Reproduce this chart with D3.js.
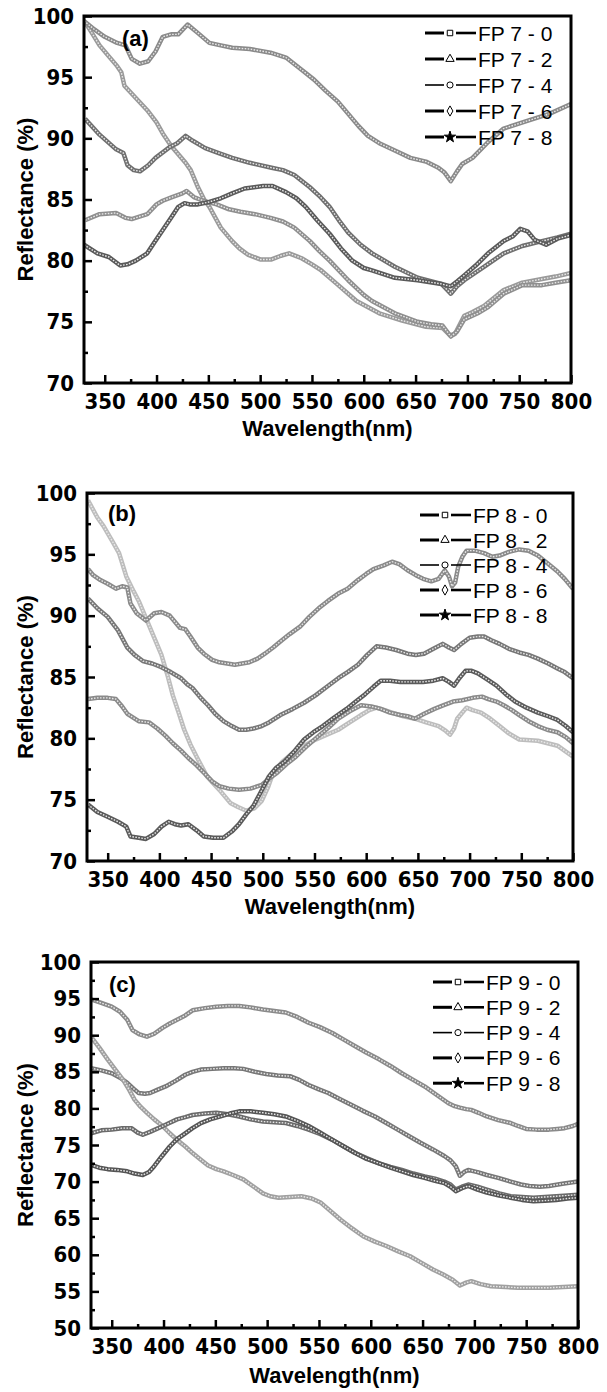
<!DOCTYPE html>
<meta charset="utf-8">
<style>
body { margin: 0; background: #fff; }
.tick text { font-family: "Liberation Sans Narrow", "Arial Narrow", "DejaVu Sans Condensed", sans-serif; font-weight: bold; font-size: 22px; fill: #000; }
.tick line { stroke: #000; stroke-width: 2.5px; }
.axis-title { font-family: "Liberation Sans", Arial, sans-serif; font-weight: bold; font-size: 22px; }
.panel-label { font-family: "Liberation Sans", Arial, sans-serif; font-weight: bold; font-size: 22px; }
.legend text { font-family: "Liberation Sans", Arial, sans-serif; font-size: 21px; }
.frame { fill: none; stroke: #000; stroke-width: 3px; }
</style>
<body>
<script src="https://d3js.org/d3.v7.min.js"></script>
<script>

// ---- data: [wavelength nm, reflectance %] ----
var fp7_0 = [[331,99.5],[337,98.7],[345,97.6],[355,96.6],[362,95.9],[366,95.4],[369,94.3],[380,93.3],[391,92.3],[400,91.3],[406,90.4],[414,89.4],[421,88.7],[428,88.0],[433,87.4],[440,86.0],[446,85.0],[451,84.4],[462,82.7],[473,81.6],[480,81.0],[488,80.5],[500,80.1],[511,80.1],[520,80.4],[528,80.6],[540,80.2],[550,79.7],[559,79.2],[574,78.1],[593,76.7],[615,75.7],[637,75.1],[660,74.6],[676,74.5],[683,73.9],[688,74.0],[697,75.5],[705,75.8],[716,76.3],[735,77.6],[753,78.2],[772,78.5],[785,78.7],[800,79.0]];
var fp7_2 = [[330,99.6],[340,98.9],[350,98.3],[362,97.8],[370,97.6],[376,96.5],[384,96.1],[392,96.3],[399,97.1],[406,98.3],[414,98.5],[421,98.5],[430,99.3],[440,98.6],[451,97.8],[462,97.6],[473,97.4],[490,97.3],[510,97.0],[525,96.6],[540,95.6],[552,94.8],[563,93.9],[575,93.0],[585,92.0],[595,91.0],[604,90.2],[615,89.6],[630,89.0],[645,88.4],[660,88.1],[672,87.6],[678,87.2],[684,86.5],[690,87.3],[695,87.9],[705,88.4],[720,89.7],[735,90.8],[757,91.4],[779,92.0],[800,92.8]];
var fp7_4 = [[331,83.3],[345,83.8],[361,83.9],[370,83.5],[376,83.4],[391,83.8],[400,84.6],[406,84.9],[415,85.2],[425,85.5],[429,85.7],[436,85.2],[445,84.9],[458,84.6],[470,84.2],[481,84.0],[495,83.8],[510,83.5],[522,83.2],[533,82.7],[548,81.6],[557,80.8],[567,80.0],[585,78.4],[600,77.2],[608,76.7],[630,75.7],[652,75.0],[665,74.8],[676,74.7],[684,73.8],[690,74.2],[697,75.2],[710,75.7],[720,76.2],[735,77.3],[753,78.0],[772,78.0],[785,78.2],[800,78.4]];
var fp7_6 = [[331,91.6],[345,90.3],[361,89.1],[368,88.8],[372,87.8],[378,87.4],[384,87.3],[392,87.8],[399,88.4],[413,89.3],[420,89.6],[428,90.2],[435,89.8],[447,89.2],[460,88.8],[473,88.4],[490,88.0],[511,87.6],[522,87.4],[533,87.0],[548,86.0],[557,85.3],[567,84.4],[576,83.3],[585,82.3],[597,81.3],[608,80.6],[630,79.5],[652,78.6],[675,78.1],[684,77.3],[690,77.9],[697,78.4],[716,79.5],[735,80.6],[753,81.2],[772,81.6],[787,81.9],[800,82.2]];
var fp7_8 = [[330,81.3],[343,80.6],[354,80.3],[365,79.6],[372,79.7],[380,80.0],[391,80.6],[398,81.5],[406,82.5],[414,83.5],[421,84.4],[427,84.7],[432,84.6],[440,84.6],[451,84.8],[462,85.1],[473,85.5],[485,85.9],[503,86.1],[512,86.1],[525,85.6],[535,85.1],[544,84.4],[555,83.3],[567,82.2],[578,81.0],[589,80.0],[600,79.4],[608,79.2],[630,78.6],[652,78.4],[675,78.1],[684,77.9],[690,78.3],[697,78.8],[708,79.6],[720,80.6],[735,81.6],[744,82.0],[751,82.6],[758,82.4],[765,81.7],[776,81.3],[787,81.8],[800,82.1]];

var fp8_0 = [[331,99.4],[340,98.0],[346,97.3],[355,96.0],[361,95.1],[368,93.2],[375,92.0],[380,91.2],[391,89.0],[402,86.8],[408,85.1],[413,83.5],[419,82.0],[424,80.7],[430,79.5],[436,78.5],[446,76.9],[458,75.8],[469,74.7],[476,74.4],[484,74.1],[492,74.3],[499,74.9],[505,76.0],[510,77.2],[519,78.1],[529,78.8],[540,79.4],[551,79.9],[562,80.3],[573,80.7],[584,81.3],[595,81.9],[603,82.3],[610,82.5],[618,82.3],[625,82.1],[636,81.8],[647,81.6],[658,81.3],[670,81.0],[677,80.6],[681,80.3],[685,80.8],[688,81.6],[692,82.0],[697,82.5],[703,82.3],[711,82.1],[720,81.6],[729,81.0],[738,80.4],[748,79.9],[766,79.8],[785,79.4],[800,78.5]];
var fp8_2 = [[331,93.8],[336,93.3],[343,92.9],[350,92.6],[358,92.2],[364,92.4],[369,92.3],[372,91.0],[378,90.2],[387,89.6],[395,90.2],[402,90.3],[410,90.0],[420,89.0],[425,88.9],[430,88.3],[437,87.4],[443,86.9],[451,86.4],[458,86.2],[473,86.0],[487,86.2],[495,86.5],[502,86.9],[510,87.4],[517,87.9],[526,88.5],[536,89.1],[545,89.9],[554,90.6],[563,91.2],[573,91.8],[582,92.2],[592,92.9],[600,93.4],[607,93.8],[617,94.1],[625,94.4],[632,94.2],[640,93.7],[648,93.3],[655,93.0],[663,92.8],[670,93.0],[676,93.7],[680,93.2],[683,92.4],[686,92.7],[689,94.0],[693,94.8],[697,95.3],[705,95.3],[714,95.1],[722,94.8],[729,94.9],[738,95.2],[748,95.4],[757,95.3],[766,94.9],[775,94.3],[785,93.6],[792,93.0],[800,92.2]];
var fp8_4 = [[331,83.2],[340,83.3],[350,83.3],[358,83.2],[364,82.6],[369,82.0],[380,81.4],[390,81.3],[398,80.8],[406,80.2],[413,79.6],[421,79.0],[428,78.4],[436,77.8],[443,77.2],[451,76.5],[458,76.1],[467,75.9],[477,75.8],[488,75.9],[499,76.2],[506,76.7],[514,77.2],[523,77.9],[532,78.5],[543,79.4],[554,80.2],[564,80.9],[573,81.6],[584,82.2],[595,82.7],[605,82.6],[614,82.4],[623,82.1],[633,81.9],[640,81.8],[647,81.6],[656,82.0],[666,82.4],[675,82.7],[684,83.0],[693,83.1],[703,83.3],[712,83.4],[718,83.2],[726,83.0],[733,82.7],[741,82.3],[748,81.9],[757,81.4],[766,81.0],[775,80.7],[785,80.5],[793,80.1],[800,79.6]];
var fp8_6 = [[331,91.4],[340,90.6],[350,89.9],[360,88.8],[369,87.4],[376,86.8],[384,86.3],[393,86.1],[402,85.8],[411,85.4],[421,84.9],[427,84.4],[432,84.1],[440,83.3],[447,82.7],[454,82.0],[462,81.4],[470,81.0],[477,80.7],[484,80.7],[491,80.8],[499,81.0],[506,81.3],[517,81.9],[529,82.4],[540,82.9],[551,83.5],[562,84.2],[573,84.9],[582,85.4],[592,86.0],[601,86.8],[610,87.5],[619,87.4],[629,87.2],[640,86.9],[648,86.8],[656,86.9],[665,87.3],[674,87.7],[680,87.4],[685,87.2],[692,87.7],[700,88.2],[708,88.3],[714,88.3],[721,88.0],[729,87.7],[738,87.3],[748,87.0],[757,86.8],[766,86.5],[776,86.1],[785,85.7],[792,85.4],[800,84.9]];
var fp8_8 = [[331,74.6],[340,74.0],[350,73.6],[360,73.2],[368,72.8],[372,72.0],[380,71.9],[387,71.8],[395,72.2],[402,72.8],[409,73.2],[415,73.0],[421,72.9],[428,73.0],[436,72.5],[443,72.0],[452,71.9],[462,71.9],[470,72.4],[477,73.0],[484,73.8],[491,74.5],[498,75.6],[506,76.9],[513,77.6],[521,78.1],[530,78.9],[540,79.9],[549,80.5],[558,81.0],[569,81.7],[581,82.4],[590,83.0],[599,83.6],[607,84.2],[614,84.7],[623,84.7],[633,84.6],[644,84.6],[655,84.6],[665,84.7],[674,84.9],[680,84.6],[685,84.3],[690,84.9],[696,85.5],[702,85.5],[708,85.3],[717,84.8],[726,84.3],[735,83.6],[744,83.0],[755,82.5],[766,82.1],[776,81.8],[785,81.5],[793,81.0],[800,80.5]];

var fp9_0 = [[330,94.9],[340,94.4],[350,93.9],[358,93.2],[365,92.1],[370,90.7],[377,90.1],[384,89.8],[391,90.2],[399,91.0],[406,91.6],[413,92.1],[421,92.7],[428,93.4],[440,93.7],[451,93.9],[462,94.0],[473,94.0],[484,93.8],[496,93.5],[507,93.3],[518,93.1],[529,92.5],[540,91.7],[551,91.1],[563,90.3],[574,89.4],[585,88.5],[596,87.6],[608,86.7],[619,85.8],[630,84.8],[641,83.9],[652,83.0],[663,81.9],[675,80.7],[681,80.3],[686,80.1],[692,79.9],[697,79.8],[704,79.4],[712,78.9],[723,78.4],[735,78.0],[742,77.6],[750,77.2],[760,77.1],[772,77.1],[780,77.2],[787,77.3],[795,77.6],[800,77.9]];
var fp9_2 = [[330,85.5],[340,85.2],[350,84.8],[358,84.2],[365,83.5],[371,82.7],[376,82.1],[382,82.0],[387,82.1],[395,82.6],[402,83.0],[412,83.8],[421,84.6],[428,85.0],[436,85.3],[447,85.4],[458,85.5],[468,85.5],[477,85.4],[488,85.0],[499,84.7],[510,84.5],[522,84.4],[531,83.9],[540,83.2],[550,82.6],[559,82.1],[570,81.3],[581,80.5],[592,79.7],[604,78.9],[615,78.0],[626,77.1],[637,76.2],[648,75.3],[660,74.4],[671,73.5],[677,72.9],[682,72.1],[686,70.8],[690,71.3],[694,71.6],[703,71.3],[712,70.9],[723,70.5],[735,70.0],[745,69.6],[753,69.4],[763,69.3],[772,69.4],[785,69.7],[800,70.0]];
var fp9_4 = [[330,89.8],[338,88.3],[346,86.7],[354,85.2],[361,83.9],[367,82.5],[372,81.2],[378,80.2],[384,79.4],[391,78.5],[399,77.6],[406,76.6],[413,75.7],[421,74.8],[428,73.9],[436,73.0],[443,72.2],[451,71.7],[458,71.4],[467,70.9],[477,70.3],[486,69.4],[496,68.4],[503,68.0],[511,67.8],[522,67.9],[533,68.0],[543,67.7],[552,67.1],[561,66.0],[571,64.8],[582,63.6],[593,62.5],[604,61.8],[615,61.2],[626,60.5],[638,59.8],[649,58.9],[660,58.0],[670,57.3],[679,56.6],[686,55.8],[692,56.2],[697,56.4],[706,56.0],[716,55.7],[730,55.6],[742,55.5],[757,55.5],[772,55.5],[786,55.6],[800,55.7]];
var fp9_6 = [[330,76.6],[340,77.0],[350,77.1],[360,77.3],[369,77.3],[375,76.7],[380,76.4],[387,76.8],[395,77.3],[404,77.9],[413,78.5],[421,78.8],[428,79.1],[440,79.3],[451,79.4],[462,79.2],[473,78.9],[484,78.5],[496,78.2],[507,78.1],[518,78.0],[529,77.6],[540,77.1],[551,76.5],[563,75.7],[574,74.8],[585,73.9],[596,73.2],[608,72.5],[619,72.0],[630,71.6],[641,71.1],[652,70.7],[662,70.4],[671,70.0],[677,69.6],[682,68.9],[688,69.3],[694,69.6],[703,69.3],[712,68.9],[724,68.4],[735,68.0],[746,67.9],[757,67.8],[768,67.9],[779,68.0],[790,68.1],[800,68.2]];
var fp9_8 = [[330,72.3],[338,71.9],[346,71.7],[355,71.6],[365,71.4],[372,71.1],[380,70.9],[386,71.3],[391,72.1],[398,73.4],[406,74.8],[413,75.8],[421,76.6],[428,77.3],[436,78.0],[445,78.5],[455,78.9],[464,79.3],[473,79.6],[484,79.6],[496,79.4],[507,79.2],[518,78.9],[529,78.3],[540,77.6],[551,76.7],[563,75.7],[574,74.8],[585,73.9],[596,73.1],[608,72.5],[619,71.9],[630,71.4],[641,70.9],[652,70.5],[662,70.1],[671,69.8],[677,69.3],[682,68.7],[688,69.1],[694,69.4],[703,68.9],[712,68.5],[724,68.1],[735,67.8],[746,67.5],[757,67.3],[768,67.4],[779,67.5],[790,67.7],[800,67.8]];

var names7 = ["FP 7 - 0", "FP 7 - 2", "FP 7 - 4", "FP 7 - 6", "FP 7 - 8"];
var names8 = ["FP 8 - 0", "FP 8 - 2", "FP 8 - 4", "FP 8 - 6", "FP 8 - 8"];
var names9 = ["FP 9 - 0", "FP 9 - 2", "FP 9 - 4", "FP 9 - 6", "FP 9 - 8"];

var xTicks = [350, 400, 450, 500, 550, 600, 650, 700, 750, 800];
var xMinor = [375, 425, 475, 525, 575, 625, 675, 725, 775];
var yTicks70 = [70, 75, 80, 85, 90, 95, 100];
var yTicks50 = [50, 55, 60, 65, 70, 75, 80, 85, 90, 95, 100];

// ---- layout / style per panel ----
var symbols = [d3.symbolSquare, d3.symbolTriangle, d3.symbolCircle, d3.symbolDiamond, d3.symbolStar];

var panels = [
  { series: [fp7_0, fp7_2, fp7_4, fp7_6, fp7_8], names: names7, label: "(a)",
    shades: ["#9a9a9a", "#8a8a8a", "#8f8f8f", "#6f6f6f", "#5a5a5a"],
    yDomain: [70, 100], yTicks: yTicks70,
    left: 84, right: 571, top: 16, bottom: 383,
    labelX: 122, labelY: 46, legX: 425, legY: 33, legStep: 26, titleY: 436 },
  { series: [fp8_0, fp8_2, fp8_4, fp8_6, fp8_8], names: names8, label: "(b)",
    shades: ["#bdbdbd", "#8a8a8a", "#8a8a8a", "#777777", "#5a5a5a"],
    yDomain: [70, 100], yTicks: yTicks70,
    left: 87, right: 573, top: 493, bottom: 861,
    labelX: 108, labelY: 521, legX: 420, legY: 515, legStep: 25, titleY: 914 },
  { series: [fp9_0, fp9_2, fp9_4, fp9_6, fp9_8], names: names9, label: "(c)",
    shades: ["#8a8a8a", "#777777", "#a0a0a0", "#6a6a6a", "#555555"],
    yDomain: [50, 100], yTicks: yTicks50,
    left: 91, right: 578, top: 962, bottom: 1328,
    labelX: 109, labelY: 992, legX: 433, legY: 982, legStep: 25.3, titleY: 1383 }
];

var svg = d3.select("body").append("svg")
    .attr("width", 607)
    .attr("height", 1392);

panels.forEach(function(p) {
  var x = d3.scaleLinear().domain([330, 800]).range([p.left, p.right]);
  var y = d3.scaleLinear().domain(p.yDomain).range([p.bottom, p.top]);

  var yMinor = [];
  for (var v = p.yDomain[0] + 2.5; v < p.yDomain[1]; v += 5) yMinor.push(v);

  var g = svg.append("g");

  // clip curves to the frame
  var clipId = "clip" + p.label.replace(/\W/g, "");
  g.append("clipPath").attr("id", clipId)
    .append("rect")
      .attr("x", p.left).attr("y", p.top)
      .attr("width", p.right - p.left).attr("height", p.bottom - p.top);

  var line = d3.line()
      .x(function(d) { return x(d[0]); })
      .y(function(d) { return y(d[1]); });

  var curves = g.append("g").attr("clip-path", "url(#" + clipId + ")");
  p.series.forEach(function(s, i) {
    // textured band: grey body plus a pale broken core, like the dense hollow markers
    curves.append("path")
        .datum(s)
        .attr("fill", "none")
        .attr("stroke", p.shades[i])
        .attr("stroke-width", 4.5)
        .attr("stroke-linejoin", "round")
        .attr("d", line);
    curves.append("path")
        .datum(s)
        .attr("fill", "none")
        .attr("stroke", "#e8e8e8")
        .attr("stroke-width", 1.4)
        .attr("stroke-dasharray", "1.6,1.4")
        .attr("d", line);
  });

  // legend
  var leg = g.append("g").attr("class", "legend");
  p.names.forEach(function(n, i) {
    var ly = p.legY + i * p.legStep;
    var mx = p.legX + 25;
    leg.append("line")
        .attr("x1", p.legX).attr("x2", mx - 6)
        .attr("y1", ly).attr("y2", ly)
        .attr("stroke", "#000").attr("stroke-width", i == 2 ? 1.6 : 3);
    leg.append("line")
        .attr("x1", mx + 6).attr("x2", p.legX + 51)
        .attr("y1", ly).attr("y2", ly)
        .attr("stroke", "#000").attr("stroke-width", i == 2 ? 1.6 : 2.6);
    leg.append("path")
        .attr("transform", "translate(" + mx + "," + ly + ")")
        .attr("d", d3.symbol().type(symbols[i]).size(i == 4 ? 40 : 30)())
        .attr("fill", i == 4 ? "#000" : "#fff")
        .attr("stroke", "#000")
        .attr("stroke-width", 1);
    leg.append("text")
        .attr("x", p.legX + 53)
        .attr("y", ly)
        .attr("dy", "0.36em")
        .text(n);
  });

  // axes with inward ticks
  g.append("g")
      .attr("transform", "translate(0," + p.bottom + ")")
      .call(d3.axisBottom(x).tickValues(xTicks).tickSize(-8).tickPadding(10).tickFormat(d3.format("d")))
      .call(function(a) { a.select(".domain").remove(); a.selectAll("text").attr("font-family", null).attr("font-size", null); });
  g.append("g")
      .attr("transform", "translate(0," + p.bottom + ")")
      .call(d3.axisBottom(x).tickValues(xMinor).tickSize(-4).tickFormat(""))
      .call(function(a) { a.select(".domain").remove(); });
  g.append("g")
      .attr("transform", "translate(" + p.left + ",0)")
      .call(d3.axisLeft(y).tickValues(p.yTicks).tickSize(-8).tickPadding(10).tickFormat(d3.format("d")))
      .call(function(a) { a.select(".domain").remove(); a.selectAll("text").attr("font-family", null).attr("font-size", null); });
  g.append("g")
      .attr("transform", "translate(" + p.left + ",0)")
      .call(d3.axisLeft(y).tickValues(yMinor).tickSize(-4).tickFormat(""))
      .call(function(a) { a.select(".domain").remove(); });

  // frame
  g.append("rect")
      .attr("class", "frame")
      .attr("x", p.left).attr("y", p.top)
      .attr("width", p.right - p.left).attr("height", p.bottom - p.top);

  // panel tag
  g.append("text")
      .attr("class", "panel-label")
      .attr("x", p.labelX).attr("y", p.labelY)
      .text(p.label);

  // axis titles
  g.append("text")
      .attr("class", "axis-title")
      .attr("text-anchor", "middle")
      .attr("transform", "translate(33," + ((p.top + p.bottom) / 2) + ") rotate(-90)")
      .text("Reflectance (%)");
  g.append("text")
      .attr("class", "axis-title")
      .attr("text-anchor", "middle")
      .attr("x", (p.left + p.right) / 2)
      .attr("y", p.titleY)
      .text("Wavelength(nm)");
});

</script>
</body>
